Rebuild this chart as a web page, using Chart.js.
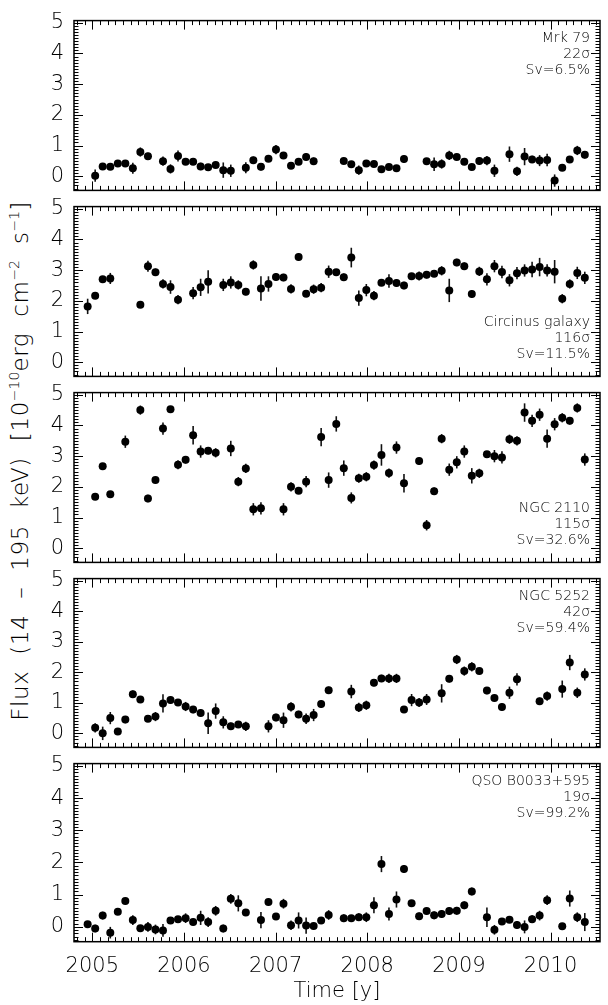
<!DOCTYPE html>
<html>
<head>
<meta charset="utf-8">
<script src="https://cdn.jsdelivr.net/npm/chart.js@4.4.1/dist/chart.umd.min.js"></script>
<style>
  body { margin: 0; background: #fff; }
  #wrap { position: relative; width: 608px; height: 1005px; overflow: hidden; }
  #wrap canvas { position: absolute; left: 0; }
  #ytitle {
    position: absolute; left: 20px; top: 461px;
    transform: translate(-50%, -50%) rotate(-90deg);
    white-space: nowrap; font-family: "DejaVu Sans", sans-serif;
    font-weight: 200; font-size: 23px; color: #000;
    word-spacing: 8px; letter-spacing: 0.6px;
  }
  #ytitle sup { font-size: 14px; vertical-align: 9px; line-height: 0; letter-spacing: 0; }
</style>
</head>
<body>
<div id="wrap">
  <div id="ytitle">Flux (14 – 195 keV) [10<sup>−10</sup>erg cm<sup>−2</sup> s<sup>−1</sup>]</div>
</div>
<script>
// Swift/BAT monthly light curves, 5 stacked panels

const years = [2005, 2006, 2007, 2008, 2009, 2010];
const fluxTicks = [0, 1, 2, 3, 4, 5];

// bin centres (decimal year)
const binTimes = [
  2004.949, 2005.031, 2005.113, 2005.196, 2005.278, 2005.360, 2005.442, 2005.524, 2005.607, 2005.689,
  2005.771, 2005.853, 2005.935, 2006.018, 2006.100, 2006.182, 2006.264, 2006.346, 2006.429, 2006.511,
  2006.593, 2006.675, 2006.757, 2006.840, 2006.922, 2007.004, 2007.086, 2007.168, 2007.251, 2007.333,
  2007.415, 2007.497, 2007.579, 2007.662, 2007.744, 2007.826, 2007.908, 2007.990, 2008.073, 2008.155,
  2008.237, 2008.319, 2008.401, 2008.484, 2008.566, 2008.648, 2008.730, 2008.812, 2008.895, 2008.977,
  2009.059, 2009.141, 2009.223, 2009.306, 2009.388, 2009.470, 2009.552, 2009.634, 2009.717, 2009.799,
  2009.881, 2009.963, 2010.045, 2010.128, 2010.210, 2010.292, 2010.374
];

const mrk79Flux = [
  null, 0.02, 0.32, 0.31, 0.42, 0.42, 0.26, 0.79, 0.65, null,
  0.49, 0.24, 0.66, 0.47, 0.47, 0.32, 0.29, 0.37, 0.20, 0.18,
  null, 0.28, 0.52, 0.31, 0.57, 0.87, 0.68, 0.34, 0.47, 0.63,
  0.49, null, null, null, 0.50, 0.39, 0.20, 0.42, 0.40, 0.23,
  0.30, 0.26, 0.56, null, null, 0.49, 0.39, 0.40, 0.68, 0.63,
  0.47, 0.30, 0.50, 0.51, 0.18, null, 0.72, 0.16, 0.64, 0.55,
  0.51, 0.53, -0.14, 0.28, 0.55, 0.84, 0.70
];
const mrk79Err = [
  null, 0.20, 0.10, 0.10, 0.08, 0.08, 0.18, 0.15, 0.12, null,
  0.15, 0.15, 0.18, 0.08, 0.08, 0.12, 0.08, 0.10, 0.25, 0.20,
  null, 0.18, 0.12, 0.12, 0.08, 0.15, 0.10, 0.10, 0.10, 0.12,
  0.12, null, null, null, 0.10, 0.08, 0.15, 0.08, 0.08, 0.08,
  0.08, 0.10, 0.12, null, null, 0.10, 0.22, 0.15, 0.15, 0.10,
  0.10, 0.08, 0.12, 0.15, 0.20, null, 0.25, 0.15, 0.28, 0.12,
  0.18, 0.20, 0.20, 0.08, 0.10, 0.15, 0.12
];

const circinusFlux = [
  1.82, 2.17, 2.70, 2.73, null, null, null, 1.87, 3.13, 2.93,
  2.55, 2.45, 2.04, null, 2.25, 2.44, 2.62, null, 2.52, 2.60,
  2.52, 2.30, 3.17, 2.40, 2.55, 2.78, 2.76, 2.39, 3.43, 2.23,
  2.38, 2.43, 2.95, 2.93, 2.77, 3.41, 2.09, 2.35, 2.17, 2.59,
  2.65, 2.58, 2.50, 2.80, 2.81, 2.85, 2.88, 2.98, 2.34, 3.25,
  3.13, 2.22, 2.96, 2.70, 3.13, 2.94, 2.67, 2.90, 2.99, 3.02,
  3.10, 2.99, 2.95, 2.07, 2.55, 2.91, 2.75
];
const circinusErr = [
  0.25, 0.10, 0.10, 0.18, null, null, null, 0.08, 0.18, 0.12,
  0.15, 0.22, 0.15, null, 0.20, 0.28, 0.38, null, 0.20, 0.20,
  0.15, 0.12, 0.15, 0.40, 0.25, 0.12, 0.12, 0.15, 0.12, 0.10,
  0.15, 0.15, 0.20, 0.08, 0.12, 0.32, 0.25, 0.20, 0.15, 0.10,
  0.22, 0.12, 0.12, 0.10, 0.15, 0.12, 0.10, 0.15, 0.38, 0.12,
  0.12, 0.12, 0.15, 0.20, 0.20, 0.20, 0.20, 0.20, 0.20, 0.25,
  0.30, 0.20, 0.38, 0.15, 0.15, 0.20, 0.20
];

const ngc2110Flux = [
  null, 1.68, 2.67, 1.76, null, 3.47, null, 4.50, 1.62, 2.22,
  3.90, 4.53, 2.72, 2.88, 3.68, 3.15, 3.18, 3.11, null, 3.25,
  2.17, 2.60, 1.27, 1.30, null, null, 1.27, 2.00, 1.87, 2.17,
  null, 3.62, 2.22, 4.05, 2.61, 1.64, 2.28, 2.33, 2.71, 3.04,
  2.45, 3.28, 2.12, null, 2.84, 0.75, 1.86, 3.57, 2.56, 2.80,
  3.15, 2.36, 2.44, 3.06, 3.00, 2.96, 3.55, 3.50, 4.42, 4.15,
  4.35, 3.57, 4.04, 4.25, 4.15, 4.57, 2.89
];
const ngc2110Err = [
  null, 0.10, 0.10, 0.10, null, 0.20, null, 0.15, 0.12, 0.10,
  0.20, 0.10, 0.15, 0.12, 0.30, 0.20, 0.12, 0.15, null, 0.25,
  0.15, 0.15, 0.20, 0.20, null, null, 0.20, 0.15, 0.10, 0.18,
  null, 0.30, 0.25, 0.25, 0.25, 0.18, 0.15, 0.15, 0.15, 0.35,
  0.15, 0.20, 0.30, null, 0.12, 0.17, 0.12, 0.15, 0.20, 0.20,
  0.20, 0.25, 0.15, 0.10, 0.20, 0.20, 0.15, 0.15, 0.30, 0.20,
  0.20, 0.30, 0.20, 0.15, 0.12, 0.15, 0.20
];

const ngc5252Flux = [
  null, 0.18, 0.00, 0.50, 0.06, 0.45, 1.28, 1.11, 0.48, 0.55,
  0.98, 1.09, 1.01, 0.88, 0.78, 0.67, 0.33, 0.73, 0.36, 0.23,
  0.29, 0.23, null, null, 0.23, 0.52, 0.43, 0.87, 0.62, 0.48,
  0.60, 0.96, 1.41, null, null, 1.37, 0.85, 0.92, 1.66, 1.80,
  1.80, 1.80, 0.78, 1.09, 1.01, 1.11, null, 1.31, 1.79, 2.42,
  2.04, 2.18, 2.04, 1.40, 1.16, 0.86, 1.33, 1.77, null, null,
  1.05, 1.22, null, 1.45, 2.32, 1.33, 1.93
];
const ngc5252Err = [
  null, 0.15, 0.22, 0.20, 0.10, 0.12, 0.12, 0.10, 0.08, 0.15,
  0.30, 0.12, 0.10, 0.15, 0.12, 0.12, 0.35, 0.25, 0.20, 0.12,
  0.10, 0.15, null, null, 0.20, 0.12, 0.25, 0.15, 0.12, 0.17,
  0.20, 0.12, 0.12, null, null, 0.22, 0.15, 0.15, 0.12, 0.12,
  0.15, 0.15, 0.10, 0.20, 0.15, 0.18, null, 0.30, 0.12, 0.15,
  0.15, 0.15, 0.08, 0.12, 0.10, 0.12, 0.20, 0.20, null, null,
  0.12, 0.15, null, 0.28, 0.25, 0.17, 0.20
];

const qsoFlux = [
  0.08, -0.05, 0.35, -0.18, 0.47, 0.80, 0.21, -0.04, 0.00, -0.08,
  -0.11, 0.20, 0.24, 0.27, 0.15, 0.28, 0.15, 0.50, -0.05, 0.87,
  0.73, 0.45, null, 0.21, 0.77, 0.32, 0.72, 0.05, 0.20, 0.04,
  0.03, 0.20, 0.37, null, 0.27, 0.27, 0.30, 0.30, 0.67, 1.95,
  0.40, 0.85, 1.80, 0.73, 0.33, 0.49, 0.36, 0.40, 0.49, 0.50,
  0.67, 1.10, null, 0.30, -0.09, 0.17, 0.22, 0.06, 0.00, 0.24,
  0.35, 0.83, null, 0.02, 0.88, 0.30, 0.15
];
const qsoErr = [
  0.10, 0.12, 0.12, 0.18, 0.08, 0.10, 0.15, 0.08, 0.15, 0.15,
  0.20, 0.10, 0.10, 0.15, 0.10, 0.22, 0.15, 0.15, 0.12, 0.15,
  0.25, 0.10, null, 0.25, 0.10, 0.08, 0.15, 0.15, 0.25, 0.25,
  0.10, 0.10, 0.15, null, 0.12, 0.10, 0.12, 0.15, 0.25, 0.25,
  0.20, 0.25, 0.12, 0.10, 0.12, 0.10, 0.12, 0.12, 0.12, 0.12,
  0.12, 0.12, null, 0.30, 0.15, 0.10, 0.08, 0.12, 0.20, 0.12,
  0.15, 0.15, null, 0.10, 0.25, 0.15, 0.28
];

const sourceNames = ['Mrk 79', 'Circinus galaxy', 'NGC 2110', 'NGC 5252', 'QSO B0033+595'];
const sourceSignif = ['22σ', '116σ', '115σ', '42σ', '19σ'];
const sourceSv = ['Sv=6.5%', 'Sv=11.5%', 'Sv=32.6%', 'Sv=59.4%', 'Sv=99.2%'];
const fluxSeries = [mrk79Flux, circinusFlux, ngc2110Flux, ngc5252Flux, qsoFlux];
const errSeries = [mrk79Err, circinusErr, ngc2110Err, ngc5252Err, qsoErr];
const labelAtBottom = [false, true, true, false, false];

// layout
const X_MIN = 2004.8, X_MAX = 2010.54;
const Y_MIN = -0.46, Y_MAX = 5.07;
const PANEL_TOP = 12.7, PANEL_H = 185.8, PAD = 14;
const FONT = '"DejaVu Sans", sans-serif';

// error bars + framed axes with inward ticks + source label
const lcDecor = {
    id: 'lcDecor',
    beforeDatasetsDraw(chart) {
        const xs = chart.scales.x, ys = chart.scales.y;
        const ctx = chart.ctx;
        ctx.save();
        ctx.strokeStyle = '#111';
        ctx.lineWidth = 1.6;
        chart.data.datasets[0].data.forEach(d => {
            const px = xs.getPixelForValue(d.x);
            ctx.beginPath();
            ctx.moveTo(px, ys.getPixelForValue(d.y - d.err));
            ctx.lineTo(px, ys.getPixelForValue(d.y + d.err));
            ctx.stroke();
        });
        ctx.restore();
    },
    afterDraw(chart, args, opts) {
        const {left, right, top, bottom} = chart.chartArea;
        const xs = chart.scales.x, ys = chart.scales.y;
        const ctx = chart.ctx;
        ctx.save();
        ctx.strokeStyle = '#000';
        ctx.lineWidth = 1.5;
        ctx.strokeRect(left, top, right - left, bottom - top);

        ctx.lineWidth = 1;
        ctx.beginPath();
        // y ticks every 0.1, major at integers
        for (let n = -4; n <= 50; n++) {
            const py = Math.round(ys.getPixelForValue(n / 10)) + 0.5;
            if (py < top || py > bottom) continue;
            const len = n % 10 === 0 ? 9 : 4.5;
            ctx.moveTo(left, py); ctx.lineTo(left + len, py);
            ctx.moveTo(right, py); ctx.lineTo(right - len, py);
        }
        // x ticks every month, major at years
        for (let m = -2; m <= 66; m++) {
            const px = Math.round(xs.getPixelForValue(2005 + m / 12)) + 0.5;
            if (px < left || px > right) continue;
            const len = m % 12 === 0 ? 9 : 4.5;
            ctx.moveTo(px, top); ctx.lineTo(px, top + len);
            ctx.moveTo(px, bottom); ctx.lineTo(px, bottom - len);
        }
        ctx.stroke();

        const k = opts.panel;
        ctx.fillStyle = '#000';
        ctx.font = '200 14px ' + FONT;
        ctx.textAlign = 'right';
        ctx.textBaseline = 'middle';
        const base = labelAtBottom[k] ? bottom - 54 : top + 18;
        [sourceNames[k], sourceSignif[k], sourceSv[k]].forEach((t, i) => {
            ctx.fillText(t, right - 10, base + i * 16);
        });
        ctx.restore();
    }
};

const wrap = document.getElementById('wrap');

for (let k = 0; k < 5; k++) {
    const last = k === 4;
    const pTop = PANEL_TOP + k * PANEL_H;
    const cTop = Math.floor(pTop - PAD);
    const cH = last ? 1005 - cTop : Math.ceil(pTop + PANEL_H + PAD) - cTop;
    const padTop = pTop - cTop;
    const padBottom = last ? 0 : cH - padTop - PANEL_H;
    const xAxisH = last ? 1005 - (PANEL_TOP + 5 * PANEL_H) : 0;

    const canvas = document.createElement('canvas');
    canvas.width = 608; canvas.height = cH;
    canvas.style.top = cTop + 'px';
    canvas.style.width = '608px'; canvas.style.height = cH + 'px';
    wrap.appendChild(canvas);

    const points = [];
    fluxSeries[k].forEach((v, i) => {
        if (v !== null) points.push({x: binTimes[i], y: v, err: errSeries[k][i]});
    });

    new Chart(canvas.getContext('2d'), {
        type: 'scatter',
        data: {
            datasets: [{
                data: points,
                pointRadius: 4,
                pointHoverRadius: 4,
                pointBackgroundColor: '#000',
                pointBorderColor: '#000',
                pointBorderWidth: 0,
                showLine: false
            }]
        },
        options: {
            responsive: false,
            animation: false,
            events: [],
            layout: { padding: { left: 0, right: 8, top: padTop, bottom: padBottom } },
            plugins: {
                legend: { display: false },
                tooltip: { enabled: false },
                lcDecor: { panel: k }
            },
            scales: {
                x: {
                    type: 'linear',
                    min: X_MIN, max: X_MAX,
                    display: last,
                    grid: { display: false, drawTicks: false },
                    border: { display: false },
                    afterBuildTicks: s => { s.ticks = years.map(v => ({value: v})); },
                    afterFit: s => { s.height = xAxisH; },
                    ticks: {
                        color: '#000', padding: 12, maxRotation: 0, autoSkip: false,
                        font: { family: FONT, size: 21, weight: '200' },
                        callback: v => String(v)
                    },
                    title: {
                        display: true, text: 'Time [y]', color: '#000',
                        padding: { top: 0, bottom: 1 },
                        font: { family: FONT, size: 21, weight: '200' }
                    }
                },
                y: {
                    type: 'linear',
                    min: Y_MIN, max: Y_MAX,
                    grid: { display: false, drawTicks: false },
                    border: { display: false },
                    afterBuildTicks: s => { s.ticks = fluxTicks.map(v => ({value: v})); },
                    afterFit: s => { s.width = 74; },
                    ticks: {
                        color: '#000', padding: 10, autoSkip: false,
                        font: { family: FONT, size: 21, weight: '200' },
                        callback: v => String(v)
                    }
                }
            }
        },
        plugins: [lcDecor]
    });
}
</script>
</body>
</html>
